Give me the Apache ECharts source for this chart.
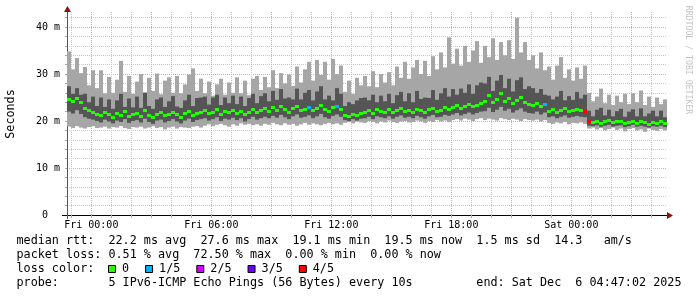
<!DOCTYPE html>
<html><head><meta charset="utf-8">
<script src="https://cdn.jsdelivr.net/npm/echarts@6/dist/echarts.min.js"></script>
<style>html,body{margin:0;padding:0;background:#fff}#c{width:697px;height:297px}</style>
</head><body><div id="c"></div>
<script>
// time axis in hours relative to Fri 00:00 (start Thu 22:47:02, end Sat 04:47:02)
const startHour = -1.2161;
const endHour = 28.7839;
const colHours = 0.2; // 12 minutes per column

const medianMs = [
24.6,24.2,24.8,24.0,
22.8,22.3,22.0,
21.6,21.2,22.0,21.4,20.9,21.7,21.3,22.1,21.0,21.5,21.8,21.1,22.4,21.3,20.8,21.6,21.9,21.2,21.5,22.0,21.4,20.9,21.7,22.2,21.3,21.8,22.0,
22.3,21.7,22.0,22.5,21.6,22.1,21.9,22.4,21.8,22.2,21.5,22.0,22.6,21.9,22.3,
22.7,22.2,22.9,22.4,23.1,22.5,22.0,22.8,23.2,22.4,22.6,23.0,22.3,22.8,23.4,22.5,22.1,22.9,23.3,22.6,
21.3,21.0,21.6,21.2,21.8,
22.0,22.4,21.8,22.6,22.2,22.0,22.5,21.9,22.3,22.7,22.1,22.4,22.0,22.6,22.3,21.9,22.5,22.8,22.2,22.4,22.9,22.6,
23.0,23.4,22.8,23.2,23.6,23.1,23.5,23.9,
24.2,25.6,24.0,24.6,26.0,24.3,24.9,23.8,24.5,25.2,24.1,23.7,
23.4,23.9,23.2,23.6,
22.2,22.5,22.0,22.4,22.8,22.1,22.3,22.6,22.4,22.2,
20.0,19.8,20.1,19.6,19.9,20.2,19.7,19.9,20.0,19.5,19.8,20.1,19.6,19.9,19.7,19.4,19.8,19.6,19.9,19.5];

const smokeMaxMs = [
34.8,31.0,33.4,30.2,
31.5,27.6,30.8,
27.0,30.8,25.9,29.4,26.0,28.8,32.8,26.2,29.6,25.8,28.4,30.0,26.1,29.2,26.4,30.1,25.7,28.6,29.3,26.0,29.6,25.9,27.8,29.9,31.2,26.4,29.0,
25.9,28.4,25.4,27.8,29.0,25.6,28.2,26.0,29.3,25.9,28.6,25.5,29.0,29.6,26.6,
29.4,27.2,30.8,27.0,30.2,28.0,29.9,27.5,31.6,28.2,31.0,32.6,28.6,33.0,29.8,32.6,28.8,33.2,30.0,31.8,
26.2,28.6,25.8,29.2,27.6,
29.6,27.4,30.6,27.2,30.0,28.2,30.4,27.6,31.6,29.2,32.6,29.0,31.4,33.0,30.0,32.8,29.6,33.8,31.0,34.6,31.4,37.8,
32.2,35.4,31.8,36.0,32.6,35.0,37.0,32.4,
36.0,33.6,37.6,33.0,36.8,34.0,37.2,33.2,42.0,34.6,36.8,33.0,
34.0,31.2,34.6,30.8,
31.6,28.8,31.8,33.6,29.2,31.0,28.6,31.4,29.0,31.8,
26.0,24.2,25.2,26.9,23.8,25.6,23.4,25.4,24.0,25.8,23.6,25.9,24.0,26.5,23.4,25.2,23.0,25.0,23.6,24.6];

const smokeMinMs = [
18.8,18.5,18.9,18.6,18.4,18.7,18.9,18.5,18.6,18.8,18.4,18.7,18.6,18.9,18.5,18.3,18.7,18.6,18.8,18.4,18.6,18.9,18.5,18.7,18.2,18.6,18.8,18.4,18.7,18.6,18.5,18.8,18.9,18.6,
19.0,19.3,18.9,19.2,19.4,19.1,18.8,19.3,19.0,19.5,19.2,19.4,19.1,19.3,19.0,19.4,19.2,19.6,19.3,19.1,19.5,19.2,19.4,19.0,19.3,19.6,19.2,19.5,19.3,19.1,19.4,19.6,19.3,19.5,19.2,
19.6,19.8,19.5,19.9,19.7,19.6,20.0,19.8,19.5,19.9,19.7,20.1,19.8,19.6,19.9,20.0,19.7,19.8,20.1,19.9,19.6,20.0,19.8,20.2,19.9,20.1,19.8,
20.2,20.4,20.1,20.5,20.3,20.0,20.4,20.6,20.2,20.5,20.3,20.1,20.6,20.4,20.2,20.5,20.3,20.0,20.4,20.2,20.1,20.3,19.9,20.2,
19.6,19.4,19.7,19.5,19.8,19.3,19.6,19.5,19.7,19.4,
18.4,18.6,18.2,18.5,18.0,18.3,18.6,18.1,18.4,17.8,18.3,18.5,18.0,18.2,17.7,18.4,18.1,17.9,18.3,18.0];

const innerLowMs = [
22.0,21.6,22.3,21.5,
20.8,20.5,20.3,
20.0,19.7,20.3,19.9,19.5,20.1,19.8,20.4,19.6,20.0,20.2,19.7,20.5,19.8,19.4,20.1,20.3,19.7,20.0,20.4,19.9,19.5,20.1,20.5,19.8,20.2,20.4,
20.6,20.1,20.4,20.8,20.0,20.5,20.3,20.7,20.2,20.6,19.9,20.4,20.9,20.3,20.6,
20.9,20.6,21.1,20.7,21.3,20.8,20.4,21.0,21.4,20.7,20.9,21.2,20.6,21.0,21.5,20.8,20.5,21.1,21.4,20.9,
20.2,20.0,20.4,20.1,20.5,
20.6,20.9,20.4,21.0,20.8,20.6,21.0,20.5,20.9,21.2,20.7,20.9,20.6,21.1,20.8,20.5,21.0,21.3,20.8,20.9,21.3,21.1,
21.4,21.7,21.2,21.5,21.8,21.4,21.7,22.0,
22.1,22.8,21.9,22.4,23.0,22.2,22.6,21.8,22.3,22.7,22.0,21.7,
21.6,22.0,21.4,21.8,
20.8,21.0,20.6,20.9,21.2,20.7,20.9,21.1,20.9,20.8,
19.0,18.9,19.1,18.8,19.0,19.2,18.8,19.0,19.1,18.7,18.9,19.2,18.8,19.0,18.8,18.6,18.9,18.8,19.0,18.7];

const innerHighMs = [
27.4,25.8,27.0,25.6,
25.8,24.0,25.2,
23.2,25.0,23.0,24.6,22.6,24.4,25.8,23.0,24.8,22.9,25.2,22.8,26.0,23.2,22.6,24.6,25.0,23.0,24.2,25.3,23.1,22.8,24.4,25.6,23.2,24.9,25.0,
25.2,23.5,25.0,25.6,23.4,25.0,23.8,25.4,23.6,25.2,23.2,24.9,25.8,23.8,25.3,
25.9,24.2,26.4,24.5,26.8,24.8,25.0,24.6,26.9,24.6,26.0,26.6,24.4,26.3,27.4,24.6,25.4,24.4,27.0,25.8,
23.2,24.0,23.6,24.4,24.9,
25.0,24.4,25.6,24.0,25.4,24.2,25.8,23.8,25.5,26.2,24.2,25.9,24.0,26.4,24.7,25.0,24.9,26.6,24.5,25.9,27.0,25.2,
26.8,25.6,26.9,26.0,27.8,25.8,27.6,28.2,
28.0,29.4,26.4,28.6,29.8,27.0,29.0,26.3,28.7,29.3,26.8,27.4,
27.0,26.0,26.8,25.6,
25.4,24.6,25.2,26.4,24.4,25.3,24.5,26.2,24.8,25.6,
22.2,21.0,22.4,22.8,21.2,22.4,21.0,22.1,22.6,20.9,22.0,22.5,21.0,22.7,21.0,21.6,22.2,21.0,22.2,20.8];

// columns with packet loss (index into the arrays above) and loss level (of 5)
const lossIndex = [60, 67, 119, 129, 130];
const lossLevel = [1, 1, 1, 4, 4];
const lossColors = ['#22ff00', '#00b4ff', '#d400ff', '#6a00ff', '#ff0000'];
const lossLabels = ['0', '1/5', '2/5', '3/5', '4/5'];

const xTickHours = [0, 6, 12, 18, 24];
const xTickLabels = ['Fri 00:00', 'Fri 06:00', 'Fri 12:00', 'Fri 18:00', 'Sat 00:00'];
const xGridHours = [-1,0,1,2,3,4,5,6,7,8,9,10,11,12,13,14,15,16,17,18,19,20,21,22,23,24,25,26,27,28];
const yTickValues = [0, 10, 20, 30, 40];
const yTickLabels = ['0  ', '10 m', '20 m', '30 m', '40 m'];
const yGridValues = [0,2,4,6,8,10,12,14,16,18,20,22,24,26,28,30,32,34,36,38,40,42];

const legendLines = [
  'median rtt:  22.2 ms avg  27.6 ms max  19.1 ms min  19.5 ms now  1.5 ms sd  14.3   am/s',
  'packet loss: 0.51 % avg  72.50 % max  0.00 % min  0.00 % now',
  'loss color:',
  'probe:       5 IPv6-ICMP Echo Pings (56 Bytes) every 10s         end: Sat Dec  6 04:47:02 2025'
];

const mono = '"DejaVu Sans Mono", monospace';
const gridGray = '#c8c8c8';
const gridRed = '#eea0a0';

const chart = echarts.init(document.getElementById('c'), null, {renderer: 'canvas', width: 697, height: 297});
const colStart = i => startHour + i * colHours;
const lossOf = i => { const k = lossIndex.indexOf(i); return k < 0 ? 0 : lossLevel[k]; };
const outerData = medianMs.map((_, i) => [colStart(i), colStart(i) + colHours, smokeMinMs[i], smokeMaxMs[i]]);
const innerData = medianMs.map((_, i) => [colStart(i), colStart(i) + colHours, innerLowMs[i], innerHighMs[i]]);
const medData = medianMs.map((v, i) => [colStart(i), colStart(i) + colHours, v, lossOf(i)]);

function band(color) {
  return function (params, api) {
    const p0 = api.coord([api.value(0), api.value(2)]);
    const p1 = api.coord([api.value(1), api.value(3)]);
    return {type: 'rect', shape: {x: p0[0], y: p1[1], width: p1[0] - p0[0], height: p0[1] - p1[1]}, style: {fill: color}};
  };
}
function medianItem(params, api) {
  const p0 = api.coord([api.value(0), api.value(2)]);
  const p1 = api.coord([api.value(1), api.value(2)]);
  const y = Math.round(p0[1]) - 1;
  return {type: 'rect', shape: {x: p0[0], y: y, width: p1[0] - p0[0], height: 3}, style: {fill: lossColors[api.value(3)]}};
}

chart.setOption({
  animation: false,
  backgroundColor: '#ffffff',
  grid: {left: 67, top: 12, width: 600, height: 203, containLabel: false},
  xAxis: {
    type: 'value', min: startHour, max: endHour,
    axisLine: {show: true, onZero: false, lineStyle: {color: '#000', width: 1}},
    axisTick: {show: true, customValues: xGridHours, length: 3, lineStyle: {color: '#aaa'}},
    axisLabel: {customValues: xTickHours, formatter: v => { const k = xTickHours.indexOf(Math.round(v)); return k < 0 ? '' : xTickLabels[k]; },
      fontFamily: mono, fontSize: 10, color: '#000', margin: 5},
    splitLine: {show: true, lineStyle: {color: [gridGray, gridRed, gridGray], type: [1, 1], width: 1}}
  },
  yAxis: {
    type: 'value', min: 0, max: 43.2,
    axisLine: {show: true, onZero: false, lineStyle: {color: '#555', width: 1}},
    axisTick: {show: true, customValues: yGridValues, length: 2, lineStyle: {color: '#aaa'}},
    axisLabel: {customValues: yTickValues, formatter: v => { const k = yTickValues.indexOf(Math.round(v)); return k < 0 ? '' : yTickLabels[k]; },
      fontFamily: mono, fontSize: 10, color: '#000', margin: 7},
    splitLine: {show: true, lineStyle: {color: [gridRed, gridGray, gridGray, gridGray, gridGray], type: [1, 1], width: 1}}
  },
  series: [
    {type: 'custom', name: 'smoke outer', renderItem: band('#a6a6a6'), data: outerData, encode: {x: [0, 1], y: [2, 3]}, silent: true, z: 2},
    {type: 'custom', name: 'smoke inner', renderItem: band('#555555'), data: innerData, encode: {x: [0, 1], y: [2, 3]}, silent: true, z: 3},
    {type: 'custom', name: 'median', renderItem: medianItem, data: medData, encode: {x: [0, 1], y: 2}, silent: true, z: 4}
  ]
});

const pO = chart.convertToPixel({gridIndex: 0}, [startHour, 0]);
const pX = chart.convertToPixel({gridIndex: 0}, [endHour, 0]);
const pY = chart.convertToPixel({gridIndex: 0}, [startHour, 43.2]);
const arrowColor = '#8b1010';
const graphics = [
  {type: 'line', shape: {x1: pO[0] - 5, y1: pO[1] + 0.5, x2: pO[0], y2: pO[1] + 0.5}, style: {stroke: '#000', lineWidth: 1}, z: 10},
  {type: 'line', shape: {x1: pO[0] + 0.5, y1: pO[1], x2: pO[0] + 0.5, y2: pO[1] + 4}, style: {stroke: '#555', lineWidth: 1}, z: 10},
  {type: 'polygon', shape: {points: [[pX[0], pX[1] - 3], [pX[0] + 6, pX[1] + 0.5], [pX[0], pX[1] + 4]]}, style: {fill: arrowColor}, z: 10},
  {type: 'polygon', shape: {points: [[pY[0] - 3, pY[1]], [pY[0] + 0.5, pY[1] - 6], [pY[0] + 4, pY[1]]]}, style: {fill: arrowColor}, z: 10},
  {type: 'text', x: 11, y: 114, rotation: Math.PI / 2, style: {text: 'Seconds', font: '11.76px ' + mono, fill: '#000', align: 'center', verticalAlign: 'middle'}, z: 10},
  {type: 'text', x: 688, y: 60, rotation: -Math.PI / 2, style: {text: 'RRDTOOL / TOBI OETIKER', font: '8.2px ' + mono, fill: '#c4c4c4', align: 'center', verticalAlign: 'middle'}, z: 10}
];
const lineY = [241, 255, 268.7, 282.7];
legendLines.forEach((t, i) => {
  graphics.push({type: 'text', x: 16.5, y: lineY[i], style: {text: t, font: '11.76px ' + mono, fill: '#000', align: 'left', verticalAlign: 'middle'}, z: 10});
});
const charW = 7.08;
let bx = 108;
lossLabels.forEach((lab, k) => {
  graphics.push({type: 'rect', shape: {x: bx + 0.5, y: 265.5, width: 7, height: 7}, style: {fill: lossColors[k], stroke: '#000', lineWidth: 1}, z: 10});
  graphics.push({type: 'text', x: bx + 14, y: lineY[2], style: {text: lab, font: '11.76px ' + mono, fill: '#000', align: 'left', verticalAlign: 'middle'}, z: 10});
  bx += 14 + lab.length * charW + 16;
});
chart.setOption({graphic: graphics});
</script>
</body></html>
